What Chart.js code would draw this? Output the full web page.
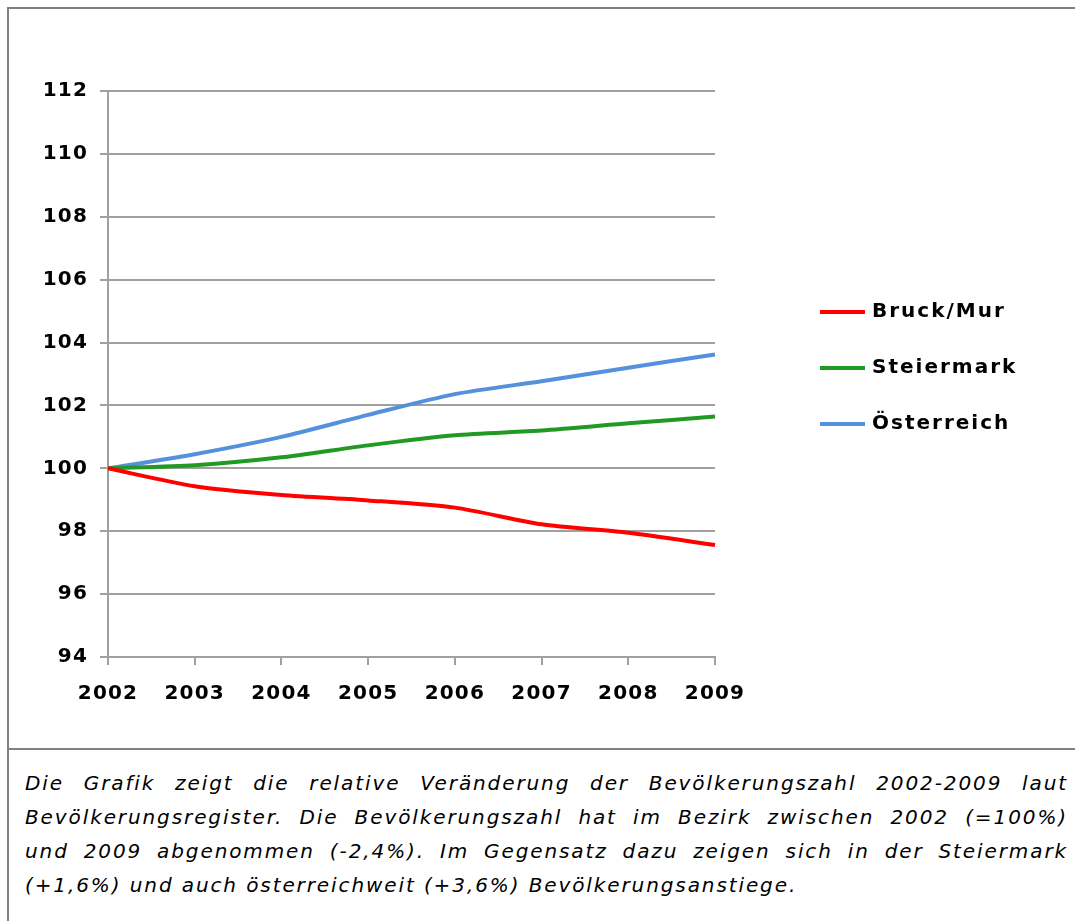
<!DOCTYPE html>
<html>
<head>
<meta charset="utf-8">
<script src="https://cdn.jsdelivr.net/npm/chart.js@4"></script>
<style>
  html, body { margin: 0; padding: 0; background: #fff; }
  body { width: 1075px; height: 921px; position: relative; overflow: hidden; }
  #chart { position: absolute; left: 0; top: 0; }
  .frame-top { position: absolute; left: 7px; top: 7px; width: 1068px; height: 2px; background: #808080; }
  .frame-left { position: absolute; left: 7px; top: 7px; width: 2px; height: 914px; background: #808080; }
  .frame-sep { position: absolute; left: 7px; top: 748px; width: 1068px; height: 2px; background: #808080; }
  #caption {
    position: absolute; left: 25px; top: 766px; width: 1043px;
    font-family: "DejaVu Sans", Verdana, sans-serif; font-style: italic;
    font-size: 20px; letter-spacing: 1.9px; line-height: 34px; color: #000;
  }
  #caption div { text-align: justify; text-align-last: justify; white-space: nowrap; }
  #caption div:last-child { text-align-last: left; }
</style>
</head>
<body>
<canvas id="chart" width="1075" height="748"></canvas>
<div class="frame-top"></div>
<div class="frame-left"></div>
<div class="frame-sep"></div>
<div id="caption">
  <div>Die Grafik zeigt die relative Veränderung der Bevölkerungszahl 2002-2009 laut</div>
  <div>Bevölkerungsregister. Die Bevölkerungszahl hat im Bezirk zwischen 2002 (=100%)</div>
  <div>und 2009 abgenommen (-2,4%). Im Gegensatz dazu zeigen sich in der Steiermark</div>
  <div>(+1,6%) und auch österreichweit (+3,6%) Bevölkerungsanstiege.</div>
</div>
<script>
// Data (index, 2002 = 100)
const years = ["2002", "2003", "2004", "2005", "2006", "2007", "2008", "2009"];
const bruckMur = [100, 99.43, 99.15, 98.98, 98.75, 98.22, 97.95, 97.56];
const steiermark = [100, 100.1, 100.35, 100.73, 101.05, 101.2, 101.43, 101.65];
const oesterreich = [100, 100.45, 101.0, 101.7, 102.36, 102.77, 103.2, 103.62];

const seriesNames = ["Bruck/Mur", "Steiermark", "Österreich"];
const seriesColors = ["#ff0000", "#229922", "#5590dc"];

const FONT = "'DejaVu Sans', Verdana, sans-serif";

// wider letter spacing for the axis labels (original font is wider)
const spacing = {
  id: "spacing",
  beforeDraw(chart) { chart.ctx.letterSpacing = "1.2px"; }
};

// draws the legend to the right of the plot, like the original
const sideLegend = {
  id: "sideLegend",
  afterDraw(chart) {
    const ctx = chart.ctx;
    const area = chart.chartArea;
    const x0 = area.right + 105;
    const mid = (area.top + area.bottom) / 2 - 6;
    ctx.save();
    ctx.letterSpacing = "2px";
    ctx.font = "bold 20px " + FONT;
    ctx.textBaseline = "middle";
    ctx.fillStyle = "#000";
    chart.data.datasets.forEach((ds, i) => {
      const y = mid + (i - 1) * 56;
      ctx.strokeStyle = ds.borderColor;
      ctx.lineWidth = 4;
      ctx.beginPath();
      ctx.moveTo(x0, y);
      ctx.lineTo(x0 + 45, y);
      ctx.stroke();
      ctx.fillText(ds.label, x0 + 52, y);
    });
    ctx.restore();
  }
};

const values = [bruckMur, steiermark, oesterreich];

new Chart(document.getElementById("chart"), {
  type: "line",
  data: {
    labels: years,
    datasets: values.map((v, i) => ({
      label: seriesNames[i],
      data: v,
      borderColor: seriesColors[i],
      backgroundColor: seriesColors[i],
      borderWidth: 4,
      pointRadius: 0,
      tension: 0.25,
      fill: false
    }))
  },
  options: {
    responsive: false,
    devicePixelRatio: 1,
    animation: false,
    layout: { padding: { left: 0, top: 91, right: 360, bottom: 0 } },
    plugins: {
      legend: { display: false },
      tooltip: { enabled: false }
    },
    scales: {
      x: {
        offset: false,
        afterFit(s) { s.height = 91; },
        grid: { drawOnChartArea: false, drawTicks: true, tickLength: 8, color: "#a0a0a0", lineWidth: 2 },
        border: { display: true, color: "#a0a0a0", width: 2 },
        ticks: { color: "#000", padding: 17, font: { family: FONT, size: 20, weight: "bold" }, maxRotation: 0 }
      },
      y: {
        min: 94,
        max: 112,
        afterFit(s) { s.width = 108; },
        grid: { color: "#a0a0a0", lineWidth: 2, tickLength: 8 },
        border: { display: true, color: "#a0a0a0", width: 2 },
        ticks: { stepSize: 2, color: "#000", padding: 12, font: { family: FONT, size: 20, weight: "bold" } }
      }
    }
  },
  plugins: [spacing, sideLegend]
});
</script>
</body>
</html>
